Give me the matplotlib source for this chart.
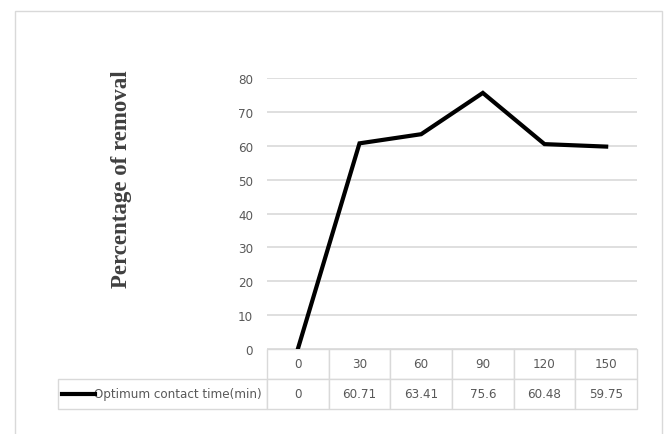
import matplotlib
matplotlib.use('Agg')
import matplotlib.pyplot as plt
from matplotlib.patches import Rectangle

# data
times = [0, 30, 60, 90, 120, 150]
removal = [0, 60.71, 63.41, 75.6, 60.48, 59.75]
series_name = 'Optimum contact time(min)'
y_label = 'Percentage of removal'
y_ticks = [0, 10, 20, 30, 40, 50, 60, 70, 80]

W, H = 668, 435
grey_line = '#d9d9d9'
grey_text = '#595959'
sans = ['Liberation Sans Narrow', 'DejaVu Sans']
fsize = 9.5

fig = plt.figure(figsize=(W / 100, H / 100), dpi=100)
fig.patch.set_facecolor('white')

# outer chart border (bottom edge runs off the picture)
fig.patches.append(Rectangle((15 / W, -0.05), (662 - 15) / W, 1.05 - 12 / H,
                             transform=fig.transFigure, fill=False,
                             edgecolor=grey_line, linewidth=1))

ax = fig.add_axes([267 / W, 1 - 350 / H, (637 - 267) / W, (350 - 79) / H])
x = list(range(len(times)))
ax.plot(x, removal, color='black', linewidth=3, solid_joinstyle='miter', zorder=3)
ax.set_xlim(-0.5, len(times) - 0.5)
ax.set_ylim(0, 80)
ax.set_yticks(y_ticks)
ax.set_xticks([])
ax.grid(axis='y', color=grey_line, linewidth=1.2)
ax.set_axisbelow(True)
for s in ax.spines.values():
    s.set_visible(False)
ax.tick_params(axis='y', length=0, pad=10, labelcolor=grey_text, labelsize=fsize)
for lab in ax.get_yticklabels():
    lab.set_family(sans)
    lab.set_stretch('condensed')

# data table under the plot, first column holds the legend entry
ax_h = 350 - 79
ax_w = 637 - 267
label_w = (267 - 58) / ax_w
cells = [[''] + [str(t) for t in times],
         [series_name] + ['{:g}'.format(v) for v in removal]]
col_w = [label_w] + [1 / len(times)] * len(times)
tbl = ax.table(cellText=cells, cellLoc='center', colWidths=col_w,
               bbox=[-label_w, -60 / ax_h, 1 + label_w, 60 / ax_h])
tbl.auto_set_font_size(False)
for (r, c), cell in tbl.get_celld().items():
    cell.set_edgecolor(grey_line)
    cell.set_linewidth(1)
    txt = cell.get_text()
    txt.set_color(grey_text)
    txt.set_fontsize(fsize)
    txt.set_family(sans)
    txt.set_stretch('condensed')
    if c == 0:
        if r == 0:
            cell.visible_edges = ''
        else:
            cell.PAD = 0.025
            cell._loc = 'right'
            txt.set_horizontalalignment('right')

# legend key inside the table row
ax.plot([(62 - 267) / ax_w, (95 - 267) / ax_w], [-45 / ax_h, -45 / ax_h],
        color='black', linewidth=3, transform=ax.transAxes, clip_on=False)

fig.text(121 / W, 1 - 179 / H, y_label, rotation=90, ha='center', va='center',
         family=['Liberation Serif', 'DejaVu Serif'], fontweight='bold',
         fontsize=16.5, color='#404040')

plt.savefig('out.png', dpi=100)
